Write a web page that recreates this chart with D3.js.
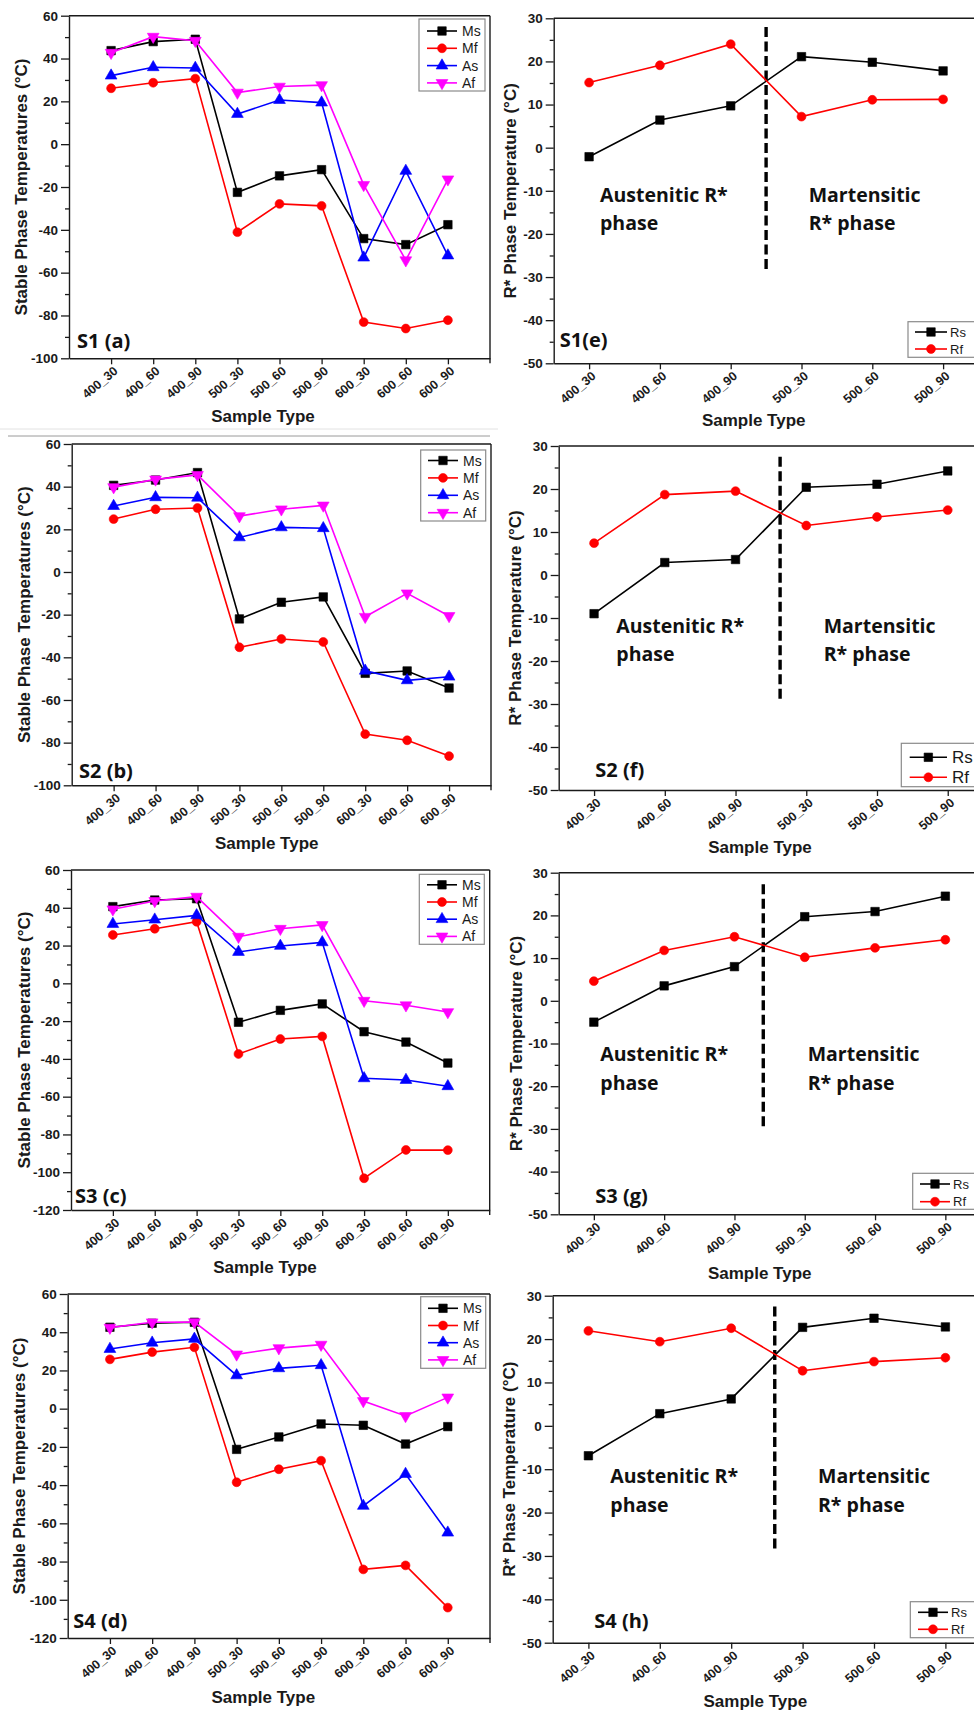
<!DOCTYPE html>
<html><head><meta charset="utf-8">
<script src="https://cdn.jsdelivr.net/npm/d3@7"></script>
<style>
body{margin:0;background:#fff;}
svg{display:block;}
</style></head><body>
<svg id="c" width="974" height="1713"></svg>
<script>
// ---------------- DATA ----------------
const stableCategories = ["400_30","400_60","400_90","500_30","500_60","500_90","600_30","600_60","600_90"];
const rCategories = ["400_30","400_60","400_90","500_30","500_60","500_90"];
const stableNames = ["Ms","Mf","As","Af"];
const rNames = ["Rs","Rf"];
const stableTicks100 = [60,40,20,0,-20,-40,-60,-80,-100];
const stableTicks120 = [60,40,20,0,-20,-40,-60,-80,-100,-120];
const rTicks = [30,20,10,0,-10,-20,-30,-40,-50];

const s1Ms = [43.7, 47.9, 49.0, -22.5, -14.8, -11.9, -44.1, -46.9, -37.6];
const s1Mf = [26.1, 28.7, 30.6, -41.1, -27.9, -28.8, -83.1, -86.1, -82.2];
const s1As = [32.0, 35.9, 35.6, 14.1, 20.6, 19.4, -53.0, -12.5, -52.0];
const s1Af = [42.7, 50.2, 48.3, 24.1, 26.9, 27.6, -19.0, -54.2, -16.4];
const s1Rs = [-2.1, 6.4, 9.7, 21.1, 19.8, 17.8];
const s1Rf = [15.1, 19.1, 24.0, 7.2, 11.1, 11.2];

const s2Ms = [40.6, 43.1, 46.6, -22.0, -14.2, -11.7, -47.5, -46.4, -54.4];
const s2Mf = [24.8, 29.4, 30.0, -35.3, -31.4, -32.8, -76.0, -78.9, -86.3];
const s2As = [30.9, 35.0, 34.8, 16.2, 20.9, 20.5, -46.3, -50.8, -49.1];
const s2Af = [39.8, 43.4, 45.5, 26.2, 29.4, 31.2, -21.0, -10.0, -20.6];
const s2Rs = [-9.0, 2.9, 3.6, 20.4, 21.1, 24.2];
const s2Rf = [7.4, 18.7, 19.5, 11.5, 13.5, 15.1];

const s3Ms = [40.6, 44.1, 44.8, -20.6, -14.3, -10.9, -25.6, -31.1, -42.2];
const s3Mf = [25.6, 28.9, 32.6, -37.4, -29.5, -28.1, -103.2, -88.2, -88.3];
const s3As = [31.4, 33.7, 36.0, 16.6, 19.8, 21.7, -50.3, -51.2, -54.5];
const s3Af = [39.2, 43.6, 45.9, 24.7, 28.9, 30.9, -9.2, -11.6, -15.2];
const s3Rs = [-5.0, 3.5, 8.0, 19.7, 20.9, 24.5];
const s3Rf = [4.6, 11.8, 15.0, 10.2, 12.4, 14.3];

const s4Ms = [42.6, 44.7, 45.2, -21.3, -14.8, -8.0, -8.7, -18.5, -9.4];
const s4Mf = [25.8, 29.6, 32.1, -38.5, -31.7, -27.2, -84.1, -82.0, -104.1];
const s4As = [31.2, 34.5, 36.5, 17.4, 21.1, 22.7, -50.9, -34.2, -64.9];
const s4Af = [42.4, 45.2, 45.3, 28.4, 31.7, 33.5, 4.0, -3.8, 5.9];
const s4Rs = [-6.9, 2.8, 6.2, 22.7, 24.8, 22.8];
const s4Rf = [21.9, 19.4, 22.5, 12.7, 14.8, 15.7];

// dashed divider (in category-index units and °C)
const dividerAt = [3.5, 3.63, 3.41, 3.61];
const dividerTop = [28.0, 27.5, 27.3, 27.5];
const dividerBottom = [-28.4, -29.3, -29.8, -28.6];

const stableLabels = ["S1 (a)","S2 (b)","S3 (c)","S4 (d)"];
const rLabels = ["S1(e)","S2 (f)","S3 (g)","S4 (h)"];

// ---------------- STYLE ----------------
const colors = {Ms:"#000000", Mf:"#ff0000", As:"#0000ff", Af:"#ff00ff", Rs:"#000000", Rf:"#ff0000"};
const symbols = {Ms:d3.symbolSquare, Mf:d3.symbolCircle, As:d3.symbolTriangle, Af:"down", Rs:d3.symbolSquare, Rf:d3.symbolCircle};
const symSize = {Ms:72, Mf:62, As:60, Af:60, Rs:72, Rf:62};
const AX = "Liberation Sans, Arial, sans-serif";
const AN = "'Open Sans', 'Noto Sans', sans-serif";

const svg = d3.select("#c");

function marker(g, name, cx, cy) {
  let s = symbols[name];
  let rot = 0;
  if (s === "down") { s = d3.symbolTriangle; rot = 180; }
  g.append("path")
    .attr("d", d3.symbol().type(s).size(symSize[name])())
    .attr("transform", `translate(${cx},${cy}) rotate(${rot})`)
    .attr("fill", colors[name]).attr("stroke", colors[name]).attr("stroke-width", 0.6);
}

function styleAxis(sel) {
  sel.selectAll("path.domain").attr("stroke", "#1a1a1a").attr("stroke-width", 1.4);
  sel.selectAll(".tick line").attr("stroke", "#1a1a1a").attr("stroke-width", 1.3);
  sel.selectAll("text").attr("fill", "#1a1a1a");
}

function drawPanel(L, cats, seriesNames, seriesData, yTicks, xDomain, title, panelLabel, divider) {
  const g = svg.append("g");
  const x = d3.scaleLinear().domain(xDomain).range([L.x0, L.x1]);
  const y = d3.scaleLinear().domain([yTicks[yTicks.length-1], yTicks[0]]).range([L.y1, L.y0]);

  // frame
  g.append("line").attr("x1", L.x0).attr("x2", L.x1).attr("y1", L.y0).attr("y2", L.y0)
    .attr("stroke", "#1a1a1a").attr("stroke-width", 1.4);
  g.append("line").attr("x1", L.x1).attr("x2", L.x1).attr("y1", L.y0).attr("y2", L.y1 + 5)
    .attr("stroke", "#1a1a1a").attr("stroke-width", 1.4);

  // minor y ticks
  const step = yTicks[0] - yTicks[1];
  const minor = yTicks.slice(0, -1).map(v => v - step / 2);
  g.append("g").attr("transform", `translate(${L.x0},0)`)
    .call(d3.axisLeft(y).tickValues(minor).tickSize(4).tickSizeOuter(0).tickFormat(""))
    .call(s => { s.select("path.domain").remove(); styleAxis(s); });

  // major y axis
  g.append("g").attr("transform", `translate(${L.x0},0)`)
    .call(d3.axisLeft(y).tickValues(yTicks).tickSize(8).tickSizeOuter(0).tickPadding(3).tickFormat(d => String(d)))
    .call(s => {
      styleAxis(s);
      s.selectAll("text").attr("font-family", AX).attr("font-weight", "bold").attr("font-size", 13.5);
    });

  // x axis
  const idx = d3.range(1, cats.length + 1);
  g.append("g").attr("transform", `translate(0,${L.y1})`)
    .call(d3.axisBottom(x).tickValues(idx).tickSize(6).tickSizeOuter(0).tickFormat(i => cats[i-1]))
    .call(s => {
      styleAxis(s);
      s.selectAll("text").attr("font-family", AX).attr("font-weight", "bold").attr("font-size", 12.5)
        .attr("text-anchor", "end").attr("x", 7).attr("y", 14).attr("dy", null)
        .attr("transform", "rotate(-40,7,14)");
    });

  // divider
  if (divider) {
    g.append("line")
      .attr("x1", x(divider.at)).attr("x2", x(divider.at))
      .attr("y1", y(divider.top)).attr("y2", y(divider.bottom))
      .attr("stroke", "#000").attr("stroke-width", 3.4).attr("stroke-dasharray", "10,4.5");
  }

  // series
  seriesNames.forEach((name, k) => {
    const vals = seriesData[k];
    const line = d3.line().x((d, i) => x(i + 1)).y(d => y(d));
    g.append("path").datum(vals).attr("d", line).attr("fill", "none")
      .attr("stroke", colors[name]).attr("stroke-width", 1.6);
    vals.forEach((v, i) => marker(g, name, x(i + 1), y(v)));
  });

  // axis titles
  g.append("text").attr("transform", `translate(${L.ytx},${(L.y0 + L.y1) / 2}) rotate(-90)`)
    .attr("text-anchor", "middle").attr("dy", "0.35em")
    .attr("font-family", AX).attr("font-weight", "bold").attr("font-size", 17).attr("fill", "#1a1a1a")
    .text(title);
  g.append("text").attr("x", L.xtx).attr("y", L.xty).attr("text-anchor", "middle")
    .attr("font-family", AX).attr("font-weight", "bold").attr("font-size", 17).attr("fill", "#1a1a1a")
    .text("Sample Type");

  // panel label
  g.append("text").attr("x", L.lx).attr("y", L.ly)
    .attr("font-family", AN).attr("font-weight", 700).attr("font-size", 20).attr("fill", "#111")
    .text(panelLabel);

  // legend
  const lg = L.leg;
  g.append("rect").attr("x", lg.x).attr("y", lg.y).attr("width", lg.w).attr("height", lg.h)
    .attr("fill", "#fff").attr("stroke", "#8a8a8a").attr("stroke-width", 1.2);
  seriesNames.forEach((name, k) => {
    const yy = lg.y + lg.first + k * lg.gap;
    g.append("line").attr("x1", lg.lx0).attr("x2", lg.lx1).attr("y1", yy).attr("y2", yy)
      .attr("stroke", colors[name]).attr("stroke-width", 1.6);
    marker(g, name, (lg.lx0 + lg.lx1) / 2, yy);
    g.append("text").attr("x", lg.tx).attr("y", yy).attr("dy", "0.36em")
      .attr("font-family", AX).attr("font-size", lg.fs).attr("fill", "#1a1a1a").text(name);
  });
  return {g, x, y};
}

function phaseText(g, P) {
  const st = s => s.attr("font-family", AN).attr("font-weight", 700).attr("font-size", 19.5).attr("fill", "#111");
  g.append("text").attr("x", P.ax).attr("y", P.b1).call(st).text("Austenitic R*");
  g.append("text").attr("x", P.ax).attr("y", P.b2).call(st).text("phase");
  g.append("text").attr("x", P.mx).attr("y", P.b1).call(st).text("Martensitic");
  g.append("text").attr("x", P.mx).attr("y", P.b2).call(st).text("R* phase");
}

// ---------------- LAYOUT ----------------
const leftLayouts = [
  {x0:69,   x1:490,   y0:15.7, y1:358.3, ytx:21, xtx:263,  xty:422,  lx:77, ly:348,
   leg:{x:419, y:19, w:66, h:72, first:12, gap:17.3, lx0:427, lx1:457, tx:462, fs:14}},
  {x0:71.7, x1:491,   y0:444,  y1:785.3, ytx:24, xtx:266.7,xty:849,  lx:79, ly:777.7,
   leg:{x:420.7, y:450, w:65, h:71, first:10.5, gap:17.4, lx0:428, lx1:458, tx:463, fs:14}},
  {x0:71,   x1:489.7, y0:870,  y1:1210,  ytx:24, xtx:265,  xty:1273, lx:75, ly:1203.3,
   leg:{x:419.3, y:874.3, w:65, h:70, first:10.5, gap:17.2, lx0:427, lx1:457, tx:462, fs:14}},
  {x0:67.7, x1:490,   y0:1294, y1:1638,  ytx:19, xtx:263.3,xty:1703, lx:73.3, ly:1628.3,
   leg:{x:420.7, y:1296.7, w:65, h:71.6, first:11.6, gap:17.2, lx0:428, lx1:458, tx:463, fs:14}}
];
const rightLayouts = [
  {x0:553.7, x1:978.5, y0:18.3,  y1:363.3,  ytx:510,  xtx:753.7, xty:426,  lx:559.7, ly:346.7,
   leg:{x:908, y:321.7, w:70, h:35.6, first:10.3, gap:17, lx0:915, lx1:947, tx:950, fs:13},
   ph:{ax:600, mx:808.7, b1:202, b2:230}},
  {x0:558.7, x1:983.1, y0:446,   y1:790,    ytx:515,  xtx:760,   xty:853,  lx:595.3, ly:776.7,
   leg:{x:901.3, y:743.3, w:80, h:43.4, first:14, gap:20, lx0:909.7, lx1:947, tx:952, fs:17},
   ph:{ax:616.3, mx:823.7, b1:633.3, b2:661}},
  {x0:558.7, x1:980.5, y0:872.7, y1:1214.3, ytx:516,  xtx:759.7, xty:1279, lx:595.3, ly:1203.3,
   leg:{x:912.7, y:1173.3, w:70, h:36, first:10.7, gap:17.7, lx0:920, lx1:950, tx:953, fs:13},
   ph:{ax:600.3, mx:807.7, b1:1061, b2:1090}},
  {x0:552.7, x1:981.1, y0:1295.7,y1:1642.7, ytx:509.5,xtx:755.3, xty:1707, lx:594.3, ly:1628.3,
   leg:{x:910.3, y:1601.7, w:70, h:36, first:10.6, gap:17, lx0:918, lx1:948, tx:951, fs:13},
   ph:{ax:610.3, mx:818, b1:1482.7, b2:1511.7}}
];

// separator line under the first left panel
svg.append("line").attr("x1", 8).attr("x2", 490).attr("y1", 436).attr("y2", 436)
  .attr("stroke", "#9a9a9a").attr("stroke-width", 1);
svg.append("line").attr("x1", 0).attr("x2", 498).attr("y1", 429).attr("y2", 429)
  .attr("stroke", "#e2e2e2").attr("stroke-width", 1);

const stableSets = [
  [s1Ms, s1Mf, s1As, s1Af],
  [s2Ms, s2Mf, s2As, s2Af],
  [s3Ms, s3Mf, s3As, s3Af],
  [s4Ms, s4Mf, s4As, s4Af]
];
const rSets = [[s1Rs, s1Rf], [s2Rs, s2Rf], [s3Rs, s3Rf], [s4Rs, s4Rf]];
const stableTickSets = [stableTicks100, stableTicks100, stableTicks120, stableTicks120];

for (let p = 0; p < 4; p++) {
  drawPanel(leftLayouts[p], stableCategories, stableNames, stableSets[p], stableTickSets[p], [0, 10],
    "Stable Phase Temperatures (\u00B0C)", stableLabels[p], null);
  const r = drawPanel(rightLayouts[p], rCategories, rNames, rSets[p], rTicks, [0.5, 6.5],
    "R* Phase Temperature (\u00B0C)", rLabels[p],
    {at: dividerAt[p], top: dividerTop[p], bottom: dividerBottom[p]});
  phaseText(r.g, rightLayouts[p].ph);
}
</script>
</body></html>
